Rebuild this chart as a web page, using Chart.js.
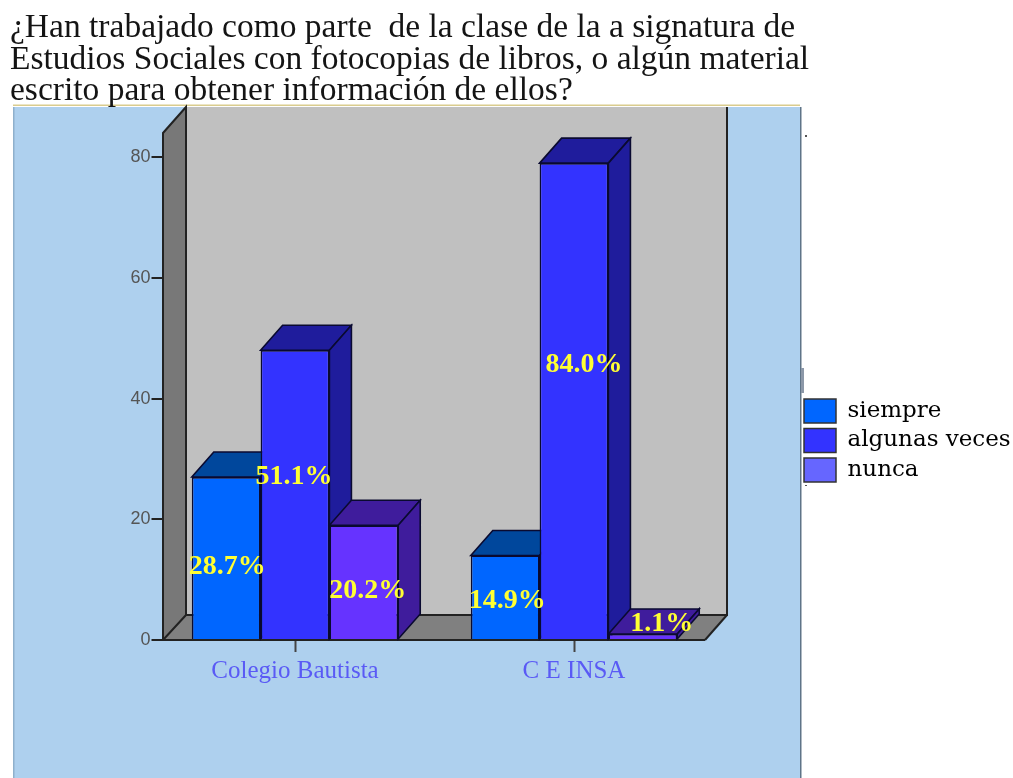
<!DOCTYPE html>
<html><head><meta charset="utf-8">
<script src="https://cdn.jsdelivr.net/npm/chart.js@4"></script>
<style>html,body{margin:0;padding:0;background:#fff}canvas{display:block;filter:blur(0.6px)}</style>
</head><body><canvas id="c" width="1013" height="778"></canvas>
<script>
const titleLines = ["¿Han trabajado como parte  de la clase de la a signatura de","Estudios Sociales con fotocopias de libros, o algún material","escrito para obtener información de ellos?"];
const categories = ["Colegio Bautista","C E INSA"];
const seriesNames = ["siempre","algunas veces","nunca"];
const siempre = [27,14];
const algunasVeces = [48,79];
const nunca = [19,1];
const percentSiempre = ["28.7%","14.9%"];
const percentAlgunas = ["51.1%","84.0%"];
const percentNunca = ["20.2%","1.1%"];
const yTicks = [0,20,40,60,80];
const frontColors = ["#0066FF","#3333FF","#6633FF"];
const depthColors = ["#00479C","#1F1C9C","#3F1C9C"];
const legendColors = ["#0066FF","#3333FF","#6666FF"];
const labelNudge = [[[1,9],[-1,-18],[4,9]],[[2,4],[10,-36],[19,-13]]];
const DX=22, DY=25;

const scene = {
  id:'scene',
  afterLayout(chart){
    const l=chart.legend; l.left=798.5; l.right=1013; l.top=393.5; l.bottom=500;
    chart.titleBlock.right=1013;
  },
  beforeDraw(chart){
    const c=chart.ctx; c.save();
    c.fillStyle='#fff'; c.fillRect(0,0,1013,778);
    c.fillStyle='#AED0EE'; c.fillRect(14,107,786,671);
    c.fillStyle='#D9CC8E'; c.fillRect(13,104.5,787,1.5);
    c.fillStyle='#8FB0CC'; c.fillRect(13,107,1.5,671);
    c.fillStyle='#5F7488'; c.fillRect(800,107,1.5,671);
    c.fillStyle='#8C98A8'; c.fillRect(801,368,3,25);
    c.fillStyle='#555'; c.fillRect(805,135,2,2); c.fillRect(805,485,2,1);
    c.restore();
  },
  beforeDatasetsDraw(chart){
    const c=chart.ctx, a=chart.chartArea, yb=a.bottom, yt=a.top;
    const wl=163, wr=705, bk=727;
    c.save();
    c.fillStyle='#C0C0C0'; c.fillRect(wl+23,yt-26,bk-wl-23,yb-yt+1);
    c.fillStyle='#787878';
    c.beginPath(); c.moveTo(wl,yt); c.lineTo(wl+23,yt-26); c.lineTo(wl+23,yb-25); c.lineTo(wl,yb); c.closePath(); c.fill();
    c.fillStyle='#808080';
    c.beginPath(); c.moveTo(wl,yb); c.lineTo(wl+23,yb-25); c.lineTo(bk,yb-25); c.lineTo(wr,yb); c.closePath(); c.fill();
    c.strokeStyle='#222'; c.lineWidth=2;
    c.beginPath(); c.moveTo(wl,yb); c.lineTo(wl,yt); c.lineTo(wl+23,yt-26); c.lineTo(wl+23,yb-25); c.lineTo(wl,yb); c.stroke();
    c.beginPath(); c.moveTo(wl+23,yb-25); c.lineTo(bk,yb-25); c.lineTo(bk,yt-26); c.stroke();
    c.beginPath(); c.moveTo(bk,yb-25); c.lineTo(wr,yb); c.stroke();
    c.beginPath(); c.moveTo(a.left,yb); c.lineTo(wr,yb); c.stroke();
    // depth faces of the bars
    c.lineWidth=1.6; c.strokeStyle='#0A0A30';
    const n=chart.data.labels.length;
    for(let i=0;i<n;i++){
      chart.data.datasets.forEach((ds,d)=>{
        const b=chart.getDatasetMeta(d).data[i], hw=b.width/2, x0=b.x-hw, x1=b.x+hw, t=b.y, bt=b.base;
        c.fillStyle=depthColors[d];
        c.beginPath(); c.moveTo(x0,t); c.lineTo(x0+DX,t-DY); c.lineTo(x1+DX,t-DY); c.lineTo(x1,t); c.closePath(); c.fill(); c.stroke();
        c.beginPath(); c.moveTo(x1,t); c.lineTo(x1+DX,t-DY); c.lineTo(x1+DX,bt-DY); c.lineTo(x1,bt); c.closePath(); c.fill(); c.stroke();
      });
    }
    c.restore();
  },
  afterDatasetsDraw(chart){
    const c=chart.ctx;
    const texts=[percentSiempre,percentAlgunas,percentNunca];
    c.save();
    c.font='bold 28px "Liberation Serif"';
    c.fillStyle='#FFFF33'; c.textAlign='center'; c.textBaseline='middle';
    chart.data.datasets.forEach((ds,d)=>{
      chart.getDatasetMeta(d).data.forEach((b,i)=>{
        const n=labelNudge[i][d];
        c.fillText(texts[d][i], b.x+n[0], (b.y+b.base)/2+n[1]);
      });
    });
    c.restore();
  }
};

const mk=(name,data,i)=>({label:name,data,backgroundColor:frontColors[i],borderColor:'#0A0A30',borderWidth:1.6,
  categoryPercentage:0.74,barPercentage:1});

new Chart(document.getElementById('c'),{
  type:'bar',
  data:{labels:categories,datasets:[mk(seriesNames[0],siempre,0),mk(seriesNames[1],algunasVeces,1),mk(seriesNames[2],nunca,2)]},
  plugins:[scene],
  options:{
    responsive:false,animation:false,
    layout:{padding:{left:10,right:299.5,top:0,bottom:0}},
    plugins:{
      tooltip:{enabled:false},
      title:{display:true,text:titleLines,align:'start',color:'#141414',
        font:{family:'"Liberation Serif"',size:33.5,weight:'normal',lineHeight:0.94},
        padding:{top:12.5,bottom:26}},
      legend:{position:'chartArea',align:'start',
        labels:{boxWidth:32,boxHeight:24,padding:5.5,color:'#333',
          font:{family:'"DejaVu Serif"',size:23},
          generateLabels:(chart)=>seriesNames.map((t,i)=>({text:t,fillStyle:legendColors[i],strokeStyle:'#333',lineWidth:1.5,datasetIndex:i}))}}
    },
    scales:{
      x:{stacked:false,border:{display:false},
        grid:{offset:false,drawOnChartArea:false,tickLength:12,tickWidth:2,tickColor:'#444',color:'#444'},
        ticks:{color:'#5A5AF5',font:{family:'"Liberation Serif"',size:25},padding:4,autoSkip:false,maxRotation:0},
        afterFit(s){s.height=138;}},
      y:{min:0,max:84,border:{display:false},
        afterBuildTicks(s){s.ticks=yTicks.map(v=>({value:v}));},
        grid:{tickLength:4,lineWidth:2,color:(x)=>x.tick&&x.tick.value===0?'rgba(0,0,0,0)':'#222',tickColor:'#222'},
        ticks:{color:'#555',font:{family:'"Liberation Sans"',size:18},padding:1,autoSkip:false},
        afterFit(s){s.width=145.5;}}
    }
  }
});
</script></body></html>
